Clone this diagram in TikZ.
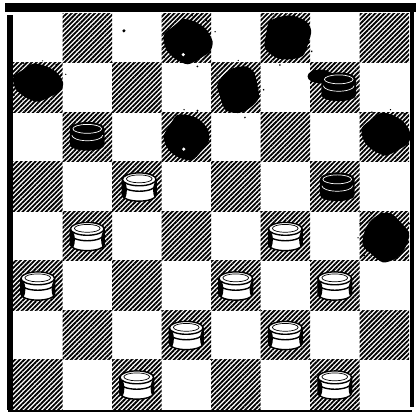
\documentclass[tikz,border=0pt]{standalone}
\usepackage{tikz}
\usetikzlibrary{patterns.meta}

\tikzset{
  hatch/.style={pattern={Lines[angle=45,distance=1.9pt,line width=1.05pt]}},
  whiteman/.pic={
    \fill[white] (-0.34,0.14) -- (-0.34,-0.18) arc (180:360:0.34 and 0.12) -- (0.34,0.14) -- cycle;
    \begin{scope}
      \clip (-0.34,0.14) -- (-0.34,-0.18) arc (180:360:0.34 and 0.12) -- (0.34,0.14) -- cycle;
      \fill (-0.36,-0.08) ellipse (0.11 and 0.22);
      \fill (0.37,-0.08) ellipse (0.09 and 0.2);
    \end{scope}
    \draw[thick] (-0.34,0.14) -- (-0.34,-0.18) arc (180:360:0.34 and 0.12) -- (0.34,0.14);
    \draw[thick] (-0.34,0.03) arc (180:360:0.34 and 0.13);
    \filldraw[thick,fill=white] (0,0.14) ellipse (0.34 and 0.13);
    \draw (0,0.15) ellipse (0.26 and 0.08);
  },
  blackman/.pic={
    \fill (-0.35,0.14) -- (-0.35,-0.18) arc (180:360:0.35 and 0.12) -- (0.35,0.14) -- cycle;
    \fill (0,0.14) ellipse (0.35 and 0.14);
    \draw[white] (0,0.14) ellipse (0.29 and 0.09);
    \draw[white] (-0.31,0.01) arc (180:360:0.31 and 0.11);
  },
  inkblob/.pic={
    \fill plot[smooth cycle] coordinates {(0:0.5) (35:0.45) (70:0.44) (100:0.48)
      (130:0.43) (165:0.5) (200:0.47) (235:0.45) (270:0.49) (305:0.44) (335:0.5)};
    \fill (50:0.58) circle (0.025) (120:0.56) circle (0.02) (290:0.57) circle (0.02)
      (20:0.59) circle (0.015) (215:0.58) circle (0.02) (80:0.55) circle (0.015);
  },
}

\begin{document}
\begin{tikzpicture}
  \useasboundingbox (-0.263,-0.061) rectangle (8.141,8.263);
  % board
  \foreach \c in {0,...,7}
    \foreach \r in {0,...,7} {
      \pgfmathtruncatemacro{\odd}{mod(\c+\r,2)}
      \ifnum\odd=0 \fill[hatch] (\c,\r) rectangle ++(1,1); \fi
    }
  % frame
  \fill (-0.16,8.02) rectangle (8.141,8.2);
  \fill (-0.12,-0.02) rectangle (0,7.96);
  \fill (8.02,0.05) rectangle (8.1,8.1);
  \fill (-0.1,-0.06) rectangle (8.05,-0.015);
  \fill (2.24,7.64) circle (0.035);

  % black men, smudged
  \pic[xscale=1.0,yscale=0.95] at (3.53,7.43) {inkblob};
  \fill[white] (3.44,7.16) circle (0.035);
  \pic[rotate=40] at (5.54,7.51) {inkblob};
  \pic[xscale=1.02,yscale=0.8] at (0.5,6.6) {inkblob};
  \pic[xscale=0.9,rotate=70] at (4.55,6.45) {inkblob};
  \pic[xscale=0.92,rotate=15] at (3.5,5.5) {inkblob};
  \fill[white] (3.45,5.25) circle (0.035);
  \pic[yscale=0.9] at (7.53,5.56) {inkblob};
  \pic[rotate=100] at (7.52,3.46) {inkblob};

  % black men
  \fill (6.2,6.72) ellipse (0.25 and 0.14);
  \pic at (6.58,6.52) {blackman};
  \pic at (1.5,5.52) {blackman};
  \pic at (6.55,4.5) {blackman};

  % white men
  \foreach \p in {(2.55,4.5),(1.5,3.5),(5.5,3.5),(0.5,2.5),(4.5,2.5),
                  (6.5,2.5),(3.5,1.5),(5.5,1.5),(2.5,0.5),(6.5,0.5)}
    \pic at \p {whiteman};
\end{tikzpicture}
\end{document}
